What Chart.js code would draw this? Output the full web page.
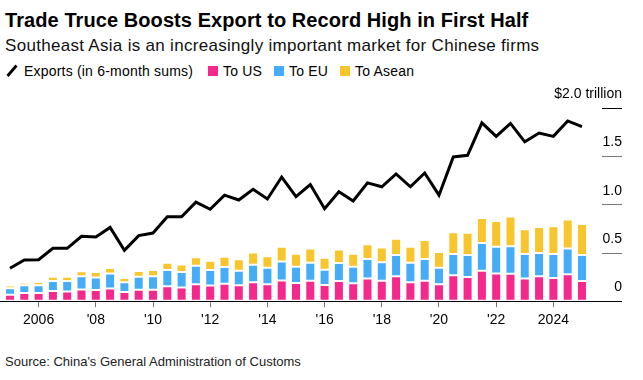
<!DOCTYPE html>
<html>
<head>
<meta charset="utf-8">
<script src="https://cdn.jsdelivr.net/npm/chart.js@4"></script>
<style>
  html, body { margin: 0; padding: 0; background: #fff; }
  body { width: 643px; height: 380px; position: relative; overflow: hidden; font-family: "Liberation Sans", Arial, sans-serif; color: #000; }
  .abs { position: absolute; white-space: nowrap; }
  #title { left: 5px; top: 10px; font-size: 20px; line-height: 20px; font-weight: bold; letter-spacing: 0.08px; }
  #subtitle { left: 5px; top: 37px; font-size: 17px; line-height: 17px; letter-spacing: 0.3px; color: #111; }
  .lg { font-size: 14px; line-height: 14px; top: 64px; letter-spacing: 0.2px; }
  .sw { position: absolute; top: 66px; width: 10px; height: 10px; }
  #source { left: 5px; top: 355px; font-size: 13px; line-height: 13px; color: #222; }
  #wrap { position: absolute; left: 0; top: 80px; width: 643px; height: 254px; }
</style>
</head>
<body>
<div id="title" class="abs">Trade Truce Boosts Export to Record High in First Half</div>
<div id="subtitle" class="abs">Southeast Asia is an increasingly important market for Chinese firms</div>
<svg class="abs" style="left:5px;top:63px" width="14" height="15"><line x1="2.5" y1="13" x2="11.5" y2="2.5" stroke="#000" stroke-width="2.8"/></svg>
<div class="abs lg" style="left:24px">Exports (in 6-month sums)</div>
<span class="sw" style="left:208px;background:#f5288c"></span>
<div class="abs lg" style="left:223px">To US</div>
<span class="sw" style="left:274px;background:#45acf8"></span>
<div class="abs lg" style="left:289px">To EU</div>
<span class="sw" style="left:340px;background:#f8c52c"></span>
<div class="abs lg" style="left:355px">To Asean</div>
<div id="wrap"><canvas id="c"></canvas></div>
<div id="source" class="abs">Source: China's General Administration of Customs</div>
<script>
const periods = ['1H05','2H05','1H06','2H06','1H07','2H07','1H08','2H08','1H09','2H09',
  '1H10','2H10','1H11','2H11','1H12','2H12','1H13','2H13','1H14','2H14',
  '1H15','2H15','1H16','2H16','1H17','2H17','1H18','2H18','1H19','2H19',
  '1H20','2H20','1H21','2H21','1H22','2H22','1H23','2H23','1H24','2H24','1H25'];

// $ trillion, 6-month sums
const exportsTotal = [0.342,0.427,0.43,0.549,0.549,0.673,0.667,0.765,0.528,0.68,
  0.707,0.876,0.876,1.028,0.954,1.10,1.05,1.16,1.06,1.288,
  1.085,1.21,0.96,1.136,1.04,1.227,1.187,1.32,1.187,1.33,
  1.10,1.497,1.514,1.85,1.71,1.845,1.653,1.744,1.71,1.87,1.81];
const toUS = [0.068,0.084,0.084,0.105,0.101,0.122,0.115,0.132,0.095,0.118,
  0.118,0.155,0.142,0.176,0.162,0.182,0.165,0.196,0.176,0.216,
  0.189,0.213,0.169,0.209,0.186,0.236,0.213,0.260,0.196,0.213,
  0.176,0.270,0.250,0.317,0.287,0.284,0.236,0.260,0.240,0.280,0.209];
const toEU = [0.067,0.081,0.081,0.104,0.108,0.138,0.131,0.155,0.101,0.135,
  0.142,0.169,0.162,0.192,0.162,0.172,0.152,0.182,0.172,0.196,
  0.169,0.185,0.158,0.186,0.172,0.203,0.192,0.219,0.202,0.226,
  0.172,0.219,0.230,0.287,0.277,0.287,0.253,0.240,0.250,0.267,0.270];
const toAsean = [0.027,0.027,0.034,0.044,0.044,0.051,0.058,0.057,0.044,0.061,
  0.064,0.074,0.078,0.088,0.095,0.108,0.118,0.128,0.118,0.152,
  0.135,0.149,0.125,0.142,0.135,0.152,0.152,0.169,0.166,0.196,
  0.162,0.226,0.230,0.260,0.267,0.307,0.257,0.270,0.287,0.300,0.321];

const tickPeriods = ['1H06','1H08','1H10','1H12','1H14','1H16','1H18','1H20','1H22','1H24'];
const tickLabels = ['2006',"'08","'10","'12","'14","'16","'18","'20","'22",'2024'];
const yTickValues = [0, 0.5, 1.0, 1.5, 2.0];

const pts = arr => arr.map((v, i) => ({x: i, y: v}));
const tickIdx = tickPeriods.map(p => periods.indexOf(p));

Chart.defaults.font.family = '"Liberation Sans", Arial, sans-serif';
Chart.defaults.color = '#000';

const barCommon = { type: 'bar', stack: 's', order: 1, barPercentage: 0.7, categoryPercentage: 1.0,
  borderWidth: 1, borderColor: 'rgba(255,255,255,0.55)', borderSkipped: false };

new Chart(document.getElementById('c'), {
  type: 'bar',
  data: {
    datasets: [
      { type: 'line', label: 'Exports (in 6-month sums)', data: pts(exportsTotal), order: 0,
        borderColor: '#000', borderWidth: 3, pointRadius: 0, tension: 0, borderJoinStyle: 'miter', fill: false },
      Object.assign({ label: 'To US', data: pts(toUS), backgroundColor: '#f5288c' }, barCommon),
      Object.assign({ label: 'To EU', data: pts(toEU), backgroundColor: '#45acf8' }, barCommon),
      Object.assign({ label: 'To Asean', data: pts(toAsean), backgroundColor: '#f8c52c' }, barCommon)
    ]
  },
  options: {
    responsive: true,
    maintainAspectRatio: false,
    animation: false,
    layout: { padding: { top: 28, right: 0, left: 0, bottom: 0 } },
    plugins: { legend: { display: false }, tooltip: { enabled: false } },
    scales: {
      x: {
        type: 'linear', min: -0.7, max: 41.4, offset: false,
        grid: { display: true, offset: false, drawOnChartArea: false, drawTicks: true, tickLength: 6, color: '#777', tickColor: '#777' },
        border: { display: true, color: '#000', width: 1 },
        afterBuildTicks: s => { s.ticks = tickIdx.map(v => ({value: v})); },
        ticks: { autoSkip: false, maxRotation: 0, padding: 5, font: { size: 14 }, color: '#000',
          callback: (v) => { const k = tickIdx.indexOf(v); return k >= 0 ? tickLabels[k] : ''; } }
      },
      y: {
        type: 'linear', position: 'right', min: 0, max: 2.0,
        afterBuildTicks: s => { s.ticks = yTickValues.map(v => ({value: v})); },
        afterFit: s => { s.width = 41; },
        grid: { display: true, drawOnChartArea: false, drawTicks: true, tickLength: 20,
          tickColor: ctx => (ctx.tick && (ctx.tick.value === 0 || ctx.tick.value === 2)) ? '#000' : '#777', tickWidth: 1 },
        border: { display: false },
        ticks: { mirror: true, padding: 20, labelOffset: -14, font: { size: 14 }, color: '#000',
          callback: v => v === 0 ? '0' : (v === 2 ? '$2.0 trillion' : v.toFixed(1)) }
      }
    }
  }
});
</script>
</body>
</html>
